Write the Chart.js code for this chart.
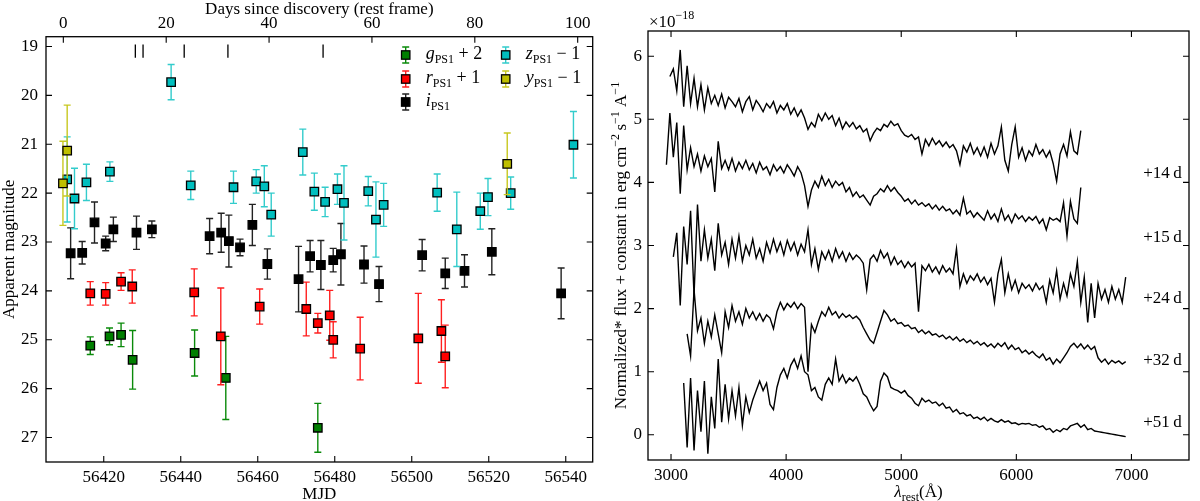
<!DOCTYPE html>
<html>
<head>
<meta charset="utf-8">
<script src="https://cdn.jsdelivr.net/npm/chart.js@4.4.1/dist/chart.umd.min.js"></script>
<style>
  html, body { margin: 0; padding: 0; background: #fff; }
  #wrap { position: relative; width: 1200px; height: 501px; }
  .panel { position: absolute; top: 0; width: 600px; height: 501px; }
  #left { left: 0; }
  #right { left: 600px; }
</style>
</head>
<body>
<div id="wrap">
  <div class="panel" id="left"><canvas id="lcChart"></canvas></div>
  <div class="panel" id="right"><canvas id="specChart"></canvas></div>
</div>
<script>
// --- light curve data (left panel) ---
const gMjd = [56416.5, 56421.5, 56424.5, 56427.5, 56443.6, 56451.7, 56475.6];
const gMag = [25.12, 24.93, 24.90, 25.41, 25.27, 25.78, 26.80];
const gErr = [0.18, 0.17, 0.24, 0.60, 0.47, 0.85, 0.50];

const rMjd = [56416.5, 56420.5, 56424.5, 56427.4, 56443.5, 56450.4, 56460.5, 56472.6, 56475.6, 56478.7, 56479.6, 56486.6, 56501.7, 56507.7, 56508.7];
const rMag = [24.05, 24.06, 23.81, 23.91, 24.03, 24.93, 24.32, 24.37, 24.66, 24.50, 25.00, 25.18, 24.97, 24.82, 25.34];
const rErr = [0.24, 0.23, 0.18, 0.34, 0.48, 0.99, 0.36, 0.55, 0.20, 0.51, 0.37, 0.64, 0.92, 0.64, 0.64];

const iMjd = [56411.4, 56414.4, 56417.6, 56420.5, 56422.5, 56428.5, 56432.5, 56447.5, 56450.5, 56452.5, 56455.4, 56458.6, 56462.5, 56470.6, 56473.6, 56476.4, 56479.6, 56481.6, 56487.6, 56491.5, 56502.7, 56508.7, 56513.7, 56520.8, 56538.8];
const iMag = [23.23, 23.22, 22.60, 23.03, 22.74, 22.81, 22.74, 22.88, 22.81, 22.98, 23.11, 22.65, 23.45, 23.76, 23.29, 23.47, 23.37, 23.25, 23.46, 23.86, 23.27, 23.64, 23.59, 23.20, 24.05];
const iErr = [0.52, 0.23, 0.42, 0.15, 0.25, 0.34, 0.17, 0.36, 0.40, 0.53, 0.17, 0.42, 0.31, 0.67, 0.32, 0.50, 0.24, 0.63, 0.38, 0.36, 0.32, 0.31, 0.33, 0.47, 0.52];

const zMjd = [56410.5, 56412.4, 56415.5, 56421.6, 56437.5, 56442.6, 56453.7, 56459.6, 56461.7, 56463.5, 56471.7, 56474.7, 56477.5, 56480.7, 56482.4, 56488.7, 56490.7, 56492.7, 56506.6, 56511.7, 56517.8, 56519.8, 56525.7, 56542.0];
const zMag = [21.72, 22.11, 21.78, 21.56, 19.73, 21.84, 21.88, 21.76, 21.86, 22.44, 21.16, 21.97, 22.18, 21.92, 22.20, 21.96, 22.54, 22.24, 21.99, 22.74, 22.37, 22.08, 22.00, 21.01];
const zErr = [0.87, 0.62, 0.37, 0.20, 0.36, 0.29, 0.33, 0.24, 0.42, 0.44, 0.47, 0.38, 0.30, 0.31, 0.76, 0.30, 0.77, 0.44, 0.38, 0.76, 0.37, 0.38, 0.33, 0.68];

const yMjd = [56409.4, 56410.5, 56524.8];
const yMag = [21.80, 21.13, 21.40];
const yErr = [0.86, 0.93, 0.63];

const mjdTicks = [56420, 56440, 56460, 56480, 56500, 56520, 56540];
const dayTicks = [0, 20, 40, 60, 80, 100];
const magTicks = [19, 20, 21, 22, 23, 24, 25, 26, 27];
const spectrumDays = [14, 15.5, 23.5, 32, 50.5];   // epochs of the spectra, rest-frame days
const discoveryMjd = 56409.5;
const timeDilation = 1.336;                         // 1 + z
const mjdMin = 56405, mjdMax = 56547;

// --- spectra (right panel), flux on a 30 A grid starting at 2960 A ---
const specStart = 2960, specStep = 30;
const spec14 = [null,
  5.68, 5.80, 5.45, 6.10, 5.20, 5.85, 5.25, 5.65, 5.20, 5.55,
  5.15, 5.50, 5.25, 5.38, 5.22, 5.40, 5.18, 5.35, 5.28, 5.20,
  5.33, 5.12, 5.28, 5.36, 5.15, 5.30, 5.22, 5.12, 5.25, 5.18,
  5.28, 5.10, 5.22, 5.15, 5.25, 5.08, 5.18, 5.05, 5.15, 5.02,
  4.84, 4.95, 4.88, 5.08, 4.98, 5.10, 5.00, 5.06, 4.90, 5.02,
  4.85, 4.96, 4.88, 4.95, 4.85, 4.90, 4.80, 4.85, 4.66, 4.78,
  4.86, 4.82, 4.92, 4.88, 4.97, 4.90, 4.93, 4.82, 4.75, 4.72,
  4.76, 4.68, 4.72, 4.45, 4.68, 4.58, 4.70, 4.60, 4.66, 4.57,
  4.64, 4.55, 4.60, 4.50, 4.28, 4.58, 4.48, 4.62, 4.45, 4.55,
  4.42, 4.56, 4.40, 4.62, 4.45, 4.58, 4.88, 4.35, 4.18, 4.60,
  4.88, 4.40, 4.55, 4.35, 4.50, 4.42, 4.60, 4.45, 4.52, 4.40,
  4.50, 4.30, 4.02, 4.45, 4.60, 4.42, 4.80, 4.50, 4.45, 4.82];
const spec15 = [
  4.28, 5.10, 4.40, 4.95, 3.82, 4.90, 4.20, 4.55, 4.25, 4.45,
  4.18, 4.42, 4.25, 4.38, 3.85, 4.65, 4.22, 4.35, 4.20, 4.38,
  4.18, 4.32, 4.22, 4.35, 4.20, 4.30, 4.15, 4.32, 4.20, 4.25,
  4.12, 4.28, 4.18, 4.25, 4.15, 4.28, 4.20, 4.10, 4.25, 4.15,
  3.95, 3.62, 3.88, 4.02, 3.92, 4.10, 3.95, 4.05, 3.92, 4.02,
  3.95, 4.00, 3.85, 3.92, 3.78, 3.85, 3.76, 3.80, 3.72, 3.64,
  3.78, 3.82, 3.90, 3.85, 3.95, 3.86, 3.92, 3.84, 3.78, 3.70,
  3.74, 3.66, 3.72, 3.64, 3.68, 3.62, 3.66, 3.58, 3.64, 3.56,
  3.62, 3.55, 3.58, 3.50, 3.56, 3.48, 3.75, 3.50, 3.55, 3.45,
  3.52, 3.46, 3.40, 3.55, 3.42, 3.50, 3.38, 3.58, 3.40, 3.48,
  3.36, 3.50, 3.42, 3.47, 3.38, 3.45, 3.40, 3.46, 3.35, 3.42,
  3.25, 3.44, 3.40, 3.43, 3.38, 3.68, 3.15, 3.70, 3.42, 3.35, 3.92];
const spec24 = [null, null,
  2.82, 3.20, 2.05, 3.30, 2.70, 3.55, 2.20, 3.65, 2.75, 3.25,
  2.80, 3.10, 2.60, 3.35, 2.85, 3.05, 2.70, 3.10, 2.80, 3.15,
  2.75, 3.00, 2.85, 3.10, 2.80, 2.95, 2.75, 3.05, 2.88, 3.10,
  2.90, 3.05, 2.85, 3.08, 2.92, 3.05, 2.85, 3.02, 2.90, 3.25,
  2.70, 2.95, 2.62, 2.90, 2.78, 2.92, 2.75, 2.95, 2.80, 2.90,
  2.75, 2.88, 2.78, 2.85, 2.80, 2.72, 2.30, 2.78, 2.85, 2.75,
  2.92, 2.80, 2.88, 2.70, 2.82, 2.70, 2.76, 2.65, 2.74, 2.66,
  2.72, 1.95, 2.68, 2.60, 2.70, 2.58, 2.66, 2.55, 2.68, 2.58,
  2.64, 2.55, 2.95, 2.35, 2.55, 2.40, 2.52, 2.45, 2.55, 2.42,
  2.50, 2.38, 2.48, 2.10, 2.55, 2.78, 2.25, 2.55, 2.30, 2.45,
  2.25, 2.40, 2.32, 2.38, 2.28, 2.40, 2.30, 2.36, 2.10, 2.45,
  2.25, 2.60, 2.15, 2.40, 2.20, 2.55, 2.35, 2.75, 2.10, 2.50,
  1.78, 2.40, 1.85, 2.40, 2.15, 2.30, 2.10, 2.35, 2.15, 2.30, 2.10, 2.50];
const spec32 = [null, null, null, null, null, null,
  1.60, 1.25, 2.30, 1.65, 1.85, 1.45, 1.80, 1.55, 1.90, 1.60,
  1.30, 1.95, 1.70, 2.05, 1.80, 1.95, 1.75, 2.00, 1.85, 1.95,
  1.82, 1.92, 1.80, 1.90, 1.85, 1.68, 1.95, 2.10, 1.98, 2.08,
  2.02, 2.10, 2.00, 2.08, 2.02, 1.00, 1.75, 1.62, 1.80, 1.95,
  1.88, 2.02, 1.90, 1.95, 1.85, 1.92, 1.86, 1.90, 1.84, 1.88,
  1.82, 1.70, 1.60, 1.50, 1.45, 1.62, 1.80, 1.97, 1.90, 1.80,
  1.84, 1.76, 1.78, 1.72, 1.74, 1.68, 1.70, 1.62, 1.66, 1.60,
  1.64, 1.58, 1.60, 1.55, 1.58, 1.52, 1.56, 1.50, 1.55, 1.48,
  1.52, 1.46, 1.50, 1.44, 1.48, 1.42, 1.46, 1.40, 1.44, 1.38,
  1.45, 1.40, 1.46, 1.36, 1.42, 1.35, 1.38, 1.30, 1.34, 1.28,
  1.32, 1.26, 1.22, 1.28, 1.18, 1.22, 1.12, 1.20, 1.14, 1.22,
  1.30, 1.40, 1.45, 1.38, 1.44, 1.36, 1.42, 1.35, 1.40, 1.22,
  1.15, 1.20, 1.12, 1.18, 1.14, 1.17, 1.12, 1.16];
const spec51 = [null, null, null, null, null,
  0.82, -0.20, 0.90, -0.25, 0.70, 0.05, 0.85, -0.30, 0.60, 0.10,
  1.20, 0.20, 0.80, 0.25, 0.70, 0.30, 0.75, 0.15, 0.60, 0.35,
  0.55, 0.70, 0.85, 0.70, 0.82, 0.48, 0.40, 0.75, 0.95, 1.05,
  0.90, 1.10, 1.20, 1.05, 1.25, 1.00, 0.95, 0.70, 0.75, 0.60,
  0.55, 0.80, 0.90, 0.80, 1.20, 0.85, 0.95, 0.82, 0.90, 0.85,
  0.92, 0.80, 0.65, 0.60, 0.48, 0.38, 0.45, 0.85, 0.98, 0.92,
  0.75, 0.72, 0.70, 0.66, 0.70, 0.62, 0.58, 0.50, 0.46, 0.58,
  0.52, 0.55, 0.50, 0.52, 0.46, 0.50, 0.42, 0.44, 0.36, 0.40,
  0.33, 0.35, 0.30, 0.32, 0.26, 0.28, 0.24, 0.28, 0.22, 0.26,
  0.22, 0.20, 0.24, 0.20, 0.22, 0.18, 0.19, 0.16, 0.18, 0.17,
  0.18, 0.15, 0.16, 0.12, 0.14, 0.08, 0.10, 0.04, 0.08, 0.05,
  0.10, 0.08, 0.14, 0.16, 0.18, 0.12, 0.16, 0.08, 0.10, 0.06,
  0.05, 0.04, 0.03, 0.02, 0.01, 0.00, -0.01, -0.02, -0.03];

const specLabels = ['+14\u2009d', '+15\u2009d', '+24\u2009d', '+32\u2009d', '+51\u2009d'];
const specLabelFlux = [4.14, 3.13, 2.16, 1.18, 0.19];
const specLabelWl = 7270;
const wlTicks = [3000, 4000, 5000, 6000, 7000];
const fluxTicks = [0, 1, 2, 3, 4, 5, 6];

// --- helpers ---
const SERIF = '"Liberation Serif", "Times New Roman", serif';
const tickFont = { family: SERIF, size: 17 };

function fontOf(r) {
  return (r.italic ? 'italic ' : '') + r.size + 'px ' + SERIF;
}

// draw a row of text pieces (for sub/superscripts)
function drawRuns(ctx, runs, x, y, align) {
  let w = 0;
  runs.forEach(r => { ctx.font = fontOf(r); r.w = ctx.measureText(r.t).width; w += r.w; });
  let cx = align === 'center' ? x - w / 2 : x;
  runs.forEach(r => {
    ctx.font = fontOf(r);
    ctx.fillText(r.t, cx, y + (r.dy || 0));
    cx += r.w;
  });
}

function fixedTicks(values) {
  return function (axis) { axis.ticks = values.map(v => ({ value: v })); };
}

// frame + inward tick marks on every side
const framePlugin = {
  id: 'frame',
  afterDraw(chart, args, opts) {
    const { ctx, chartArea: a } = chart;
    const len = 6;
    ctx.save();
    ctx.strokeStyle = '#000';
    ctx.lineWidth = 1.1;
    ctx.beginPath();
    (opts.marks || []).forEach(m => {
      const s = chart.scales[m.scale];
      s.ticks.forEach(t => {
        const p = s.getPixelForValue(t.value);
        m.edges.forEach(e => {
          if (e === 'bottom') { ctx.moveTo(p, a.bottom); ctx.lineTo(p, a.bottom - len); }
          if (e === 'top') { ctx.moveTo(p, a.top); ctx.lineTo(p, a.top + len); }
          if (e === 'left') { ctx.moveTo(a.left, p); ctx.lineTo(a.left + len, p); }
          if (e === 'right') { ctx.moveTo(a.right, p); ctx.lineTo(a.right - len, p); }
        });
      });
    });
    ctx.stroke();
    ctx.lineWidth = 1.3;
    ctx.strokeRect(a.left, a.top, a.right - a.left, a.bottom - a.top);
    ctx.restore();
  }
};

// vertical error bars with caps, drawn just before each dataset's squares
const errorBarPlugin = {
  id: 'errorBars',
  beforeDatasetDraw(chart, args) {
    const ds = chart.data.datasets[args.index];
    if (!ds.err) return;
    const { ctx } = chart;
    const xs = chart.scales.x, ys = chart.scales.y;
    ctx.save();
    ctx.strokeStyle = ds.barColor;
    ctx.lineWidth = 1.4;
    ctx.beginPath();
    ds.data.forEach((p, k) => {
      const px = xs.getPixelForValue(p.x);
      const top = ys.getPixelForValue(p.y - ds.err[k]);
      const bot = ys.getPixelForValue(p.y + ds.err[k]);
      ctx.moveTo(px, top); ctx.lineTo(px, bot);
      ctx.moveTo(px - 3.5, top); ctx.lineTo(px + 3.5, top);
      ctx.moveTo(px - 3.5, bot); ctx.lineTo(px + 3.5, bot);
    });
    ctx.stroke();
    ctx.restore();
  }
};

// --- left panel: light curve ---
const bands = [
  { letter: 'g', tail: ' + 2', mjd: gMjd, mag: gMag, err: gErr, fill: '#007f00', bar: '#0a8a0a', edge: '#000', col: 0, row: 0 },
  { letter: 'r', tail: ' + 1', mjd: rMjd, mag: rMag, err: rErr, fill: '#ff0000', bar: '#ff2020', edge: '#000', col: 0, row: 1 },
  { letter: 'i', tail: '', mjd: iMjd, mag: iMag, err: iErr, fill: '#000000', bar: '#222222', edge: '#000', col: 0, row: 2 },
  { letter: 'z', tail: ' \u2212 1', mjd: zMjd, mag: zMag, err: zErr, fill: '#00bfbf', bar: '#33cccc', edge: '#000', col: 1, row: 0 },
  { letter: 'y', tail: ' \u2212 1', mjd: yMjd, mag: yMag, err: yErr, fill: '#bfbf00', bar: '#c8c820', edge: '#000', col: 1, row: 1 }
];

const lcDecor = {
  id: 'lcDecor',
  afterDraw(chart) {
    const { ctx, chartArea: a } = chart;
    const xTop = chart.scales.xTop, ys = chart.scales.y;
    ctx.save();
    ctx.fillStyle = '#000';
    ctx.strokeStyle = '#000';

    // spectrum epochs
    ctx.lineWidth = 1.3;
    ctx.beginPath();
    spectrumDays.forEach(d => {
      const px = xTop.getPixelForValue(d);
      ctx.moveTo(px, ys.getPixelForValue(18.96));
      ctx.lineTo(px, ys.getPixelForValue(19.23));
    });
    ctx.stroke();

    // legend
    const colX = [405.7, 505.7], rowY = [55, 79, 102];
    bands.forEach(b => {
      const mx = colX[b.col], my = rowY[b.row];
      ctx.strokeStyle = b.bar;
      ctx.lineWidth = 1.4;
      ctx.beginPath();
      ctx.moveTo(mx, my - 8); ctx.lineTo(mx, my + 8);
      ctx.moveTo(mx - 3.5, my - 8); ctx.lineTo(mx + 3.5, my - 8);
      ctx.moveTo(mx - 3.5, my + 8); ctx.lineTo(mx + 3.5, my + 8);
      ctx.stroke();
      ctx.fillStyle = b.fill;
      ctx.fillRect(mx - 4.2, my - 4.2, 8.4, 8.4);
      ctx.strokeStyle = '#000';
      ctx.lineWidth = 1.3;
      ctx.strokeRect(mx - 4.2, my - 4.2, 8.4, 8.4);
      ctx.fillStyle = '#000';
      ctx.textBaseline = 'alphabetic';
      drawRuns(ctx, [
        { t: b.letter, size: 18, italic: true },
        { t: 'PS1', size: 12, dy: 4 },
        { t: b.tail, size: 18 }
      ], mx + 20, my + 4, 'left');
    });

    // axis titles
    ctx.fillStyle = '#000';
    ctx.textBaseline = 'alphabetic';
    ctx.textAlign = 'left';
    const cx = (a.left + a.right) / 2;
    drawRuns(ctx, [{ t: 'Days since discovery (rest frame)', size: 17 }], cx, 14, 'center');
    drawRuns(ctx, [{ t: 'MJD', size: 17 }], cx, 499, 'center');
    ctx.translate(14, (a.top + a.bottom) / 2);
    ctx.rotate(-Math.PI / 2);
    drawRuns(ctx, [{ t: 'Apparent magnitude', size: 17 }], 0, 0, 'center');
    ctx.restore();
  }
};

const lcDatasets = bands.map((b, k) => ({
  label: b.letter,
  data: b.mjd.map((m, j) => ({ x: m, y: b.mag[j] })),
  err: b.err,
  barColor: b.bar,
  backgroundColor: b.fill,
  borderColor: b.edge,
  pointStyle: 'rect',
  pointRadius: 6,
  pointBorderWidth: 1.3,
  pointHoverRadius: 6,
  order: bands.length - k
}));

new Chart(document.getElementById('lcChart'), {
  type: 'scatter',
  data: { datasets: lcDatasets },
  plugins: [errorBarPlugin, framePlugin, lcDecor],
  options: {
    responsive: true,
    maintainAspectRatio: false,
    animation: false,
    layout: { padding: { left: 0, right: 6.7, top: 0, bottom: 0 } },
    plugins: {
      legend: { display: false },
      tooltip: { enabled: false },
      frame: {
        marks: [
          { scale: 'x', edges: ['bottom'] },
          { scale: 'xTop', edges: ['top'] },
          { scale: 'y', edges: ['left', 'right'] }
        ]
      }
    },
    scales: {
      x: {
        type: 'linear', position: 'bottom', min: mjdMin, max: mjdMax,
        afterBuildTicks: fixedTicks(mjdTicks),
        afterFit: s => { s.height = 39; },
        grid: { display: false, drawTicks: false, tickLength: 0 },
        border: { display: false },
        ticks: { font: tickFont, color: '#000', padding: 5, autoSkip: false, maxRotation: 0, callback: v => String(v) }
      },
      xTop: {
        axis: 'x', type: 'linear', position: 'top',
        min: (mjdMin - discoveryMjd) / timeDilation,
        max: (mjdMax - discoveryMjd) / timeDilation,
        afterBuildTicks: fixedTicks(dayTicks),
        afterFit: s => { s.height = 36.7; },
        grid: { display: false, drawTicks: false, tickLength: 0 },
        border: { display: false },
        ticks: { font: tickFont, color: '#000', padding: 3, autoSkip: false, maxRotation: 0, callback: v => String(v) }
      },
      y: {
        type: 'linear', position: 'left', reverse: true, min: 18.8, max: 27.5,
        afterBuildTicks: fixedTicks(magTicks),
        afterFit: s => { s.width = 46; },
        grid: { display: false, drawTicks: false, tickLength: 0 },
        border: { display: false },
        ticks: { font: tickFont, color: '#000', padding: 8, autoSkip: false, callback: v => String(v) }
      }
    }
  }
});

// --- right panel: spectra ---
function toPoints(flux) {
  const pts = [];
  flux.forEach((f, i) => { if (f !== null) pts.push({ x: specStart + i * specStep, y: f }); });
  return pts;
}

const spectra = [spec14, spec15, spec24, spec32, spec51];

const specDecor = {
  id: 'specDecor',
  afterDraw(chart) {
    const { ctx, chartArea: a } = chart;
    const xs = chart.scales.x, ys = chart.scales.y;
    ctx.save();
    ctx.fillStyle = '#000';
    ctx.textBaseline = 'middle';
    specLabels.forEach((t, k) => {
      drawRuns(ctx, [{ t: t, size: 17 }], xs.getPixelForValue(specLabelWl), ys.getPixelForValue(specLabelFlux[k]), 'center');
    });
    ctx.textBaseline = 'alphabetic';
    drawRuns(ctx, [{ t: '\u00d710', size: 17 }, { t: '\u221218', size: 12, dy: -8 }], a.left + 1, 27, 'left');
    drawRuns(ctx, [
      { t: '\u03bb', size: 17, italic: true },
      { t: 'rest', size: 12, dy: 4 },
      { t: '(\u00c5)', size: 17 }
    ], (a.left + a.right) / 2, 497, 'center');
    ctx.translate(26, (a.top + a.bottom) / 2);
    ctx.rotate(-Math.PI / 2);
    drawRuns(ctx, [
      { t: 'Normalized* flux + constant in erg\u2009cm', size: 17 },
      { t: '\u22122', size: 12, dy: -7 },
      { t: '\u2009s', size: 17 },
      { t: '\u22121', size: 12, dy: -7 },
      { t: ' A', size: 17 },
      { t: '\u22121', size: 12, dy: -7 }
    ], 0, 0, 'center');
    ctx.restore();
  }
};

new Chart(document.getElementById('specChart'), {
  type: 'line',
  data: {
    datasets: spectra.map((s, k) => ({
      label: specLabels[k],
      data: toPoints(s),
      borderColor: '#000',
      borderWidth: 1.4,
      pointRadius: 0,
      fill: false,
      tension: 0
    }))
  },
  plugins: [framePlugin, specDecor],
  options: {
    responsive: true,
    maintainAspectRatio: false,
    animation: false,
    layout: { padding: { left: 0, right: 11, top: 31, bottom: 0 } },
    plugins: {
      legend: { display: false },
      tooltip: { enabled: false },
      frame: {
        marks: [
          { scale: 'x', edges: ['bottom', 'top'] },
          { scale: 'y', edges: ['left', 'right'] }
        ]
      }
    },
    scales: {
      x: {
        type: 'linear', position: 'bottom', min: 2800, max: 7500,
        afterBuildTicks: fixedTicks(wlTicks),
        afterFit: s => { s.height = 41; },
        grid: { display: false, drawTicks: false, tickLength: 0 },
        border: { display: false },
        ticks: { font: tickFont, color: '#000', padding: 5, autoSkip: false, maxRotation: 0, callback: v => String(v) }
      },
      y: {
        type: 'linear', position: 'left', min: -0.4, max: 6.4,
        afterBuildTicks: fixedTicks(fluxTicks),
        afterFit: s => { s.width = 48; },
        grid: { display: false, drawTicks: false, tickLength: 0 },
        border: { display: false },
        ticks: { font: tickFont, color: '#000', padding: 6, autoSkip: false, callback: v => String(v) }
      }
    }
  }
});
</script>
</body>
</html>
